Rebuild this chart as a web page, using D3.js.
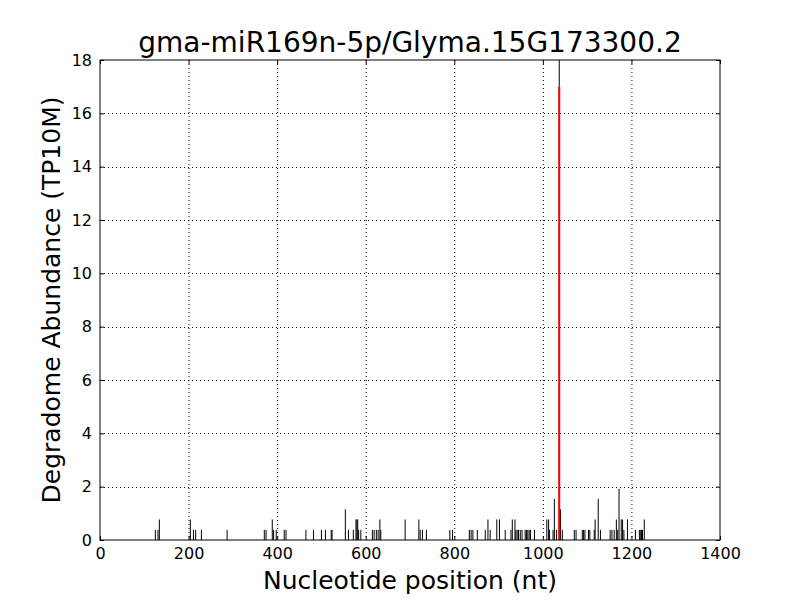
<!DOCTYPE html>
<html><head><meta charset="utf-8">
<script src="https://cdn.jsdelivr.net/npm/d3@7/dist/d3.min.js"></script>
<style>body{margin:0;background:#fff}svg{display:block}text{font-family:"DejaVu Sans",sans-serif}</style>
</head><body>
<script>
const title = "gma-miR169n-5p/Glyma.15G173300.2";
const xLabel = "Nucleotide position (nt)";
const yLabel = "Degradome Abundance (TP10M)";
const xTicks = [0,200,400,600,800,1000,1200,1400];
const yTicks = [0,2,4,6,8,10,12,14,16,18];
const positions = [125,131,134,204,211,216,229,287,371,375,389,392,398,416,420,465,482,500,509,522,524,554,561,572,578,580,582,584,589,615,619,624,628,632,634,689,720,723,728,737,790,796,834,838,842,852,870,876,881,896,902,915,928,931,937,939,942,945,949,953,960,963,966,969,972,981,1009,1013,1015,1023,1026,1031,1037,1040,1044,1071,1075,1089,1092,1095,1103,1106,1116,1118,1125,1130,1152,1156,1161,1166,1169,1172,1177,1180,1183,1191,1209,1218,1221,1223,1225,1229];
const abundances = [0.38,0.38,0.77,0.77,0.38,0.38,0.38,0.38,0.38,0.38,0.77,0.38,0.38,0.38,0.38,0.38,0.38,0.38,0.38,0.38,0.38,1.15,0.38,0.38,0.77,0.77,0.77,0.38,0.38,0.38,0.38,0.38,0.38,0.77,0.38,0.77,0.77,0.38,0.38,0.38,0.38,0.38,0.38,0.38,0.38,0.38,0.38,0.77,0.38,0.77,0.77,0.38,0.38,0.77,0.77,0.38,0.38,0.38,0.38,0.38,0.38,0.38,0.38,0.38,0.38,0.38,0.77,0.77,0.38,0.38,1.54,0.38,19,1.15,0.38,0.38,0.38,0.38,0.38,0.38,0.38,0.38,0.38,0.77,1.54,0.38,0.38,0.38,0.38,0.77,0.38,1.92,0.77,0.77,0.38,0.77,0.38,0.38,0.38,0.38,0.38,0.77];
const targetPos = [1037];
const targetVal = [17];

const W=800,H=600,L=100,R=720,T=60,B=540;
const x=d3.scaleLinear().domain([0,1400]).range([L,R]);
const y=d3.scaleLinear().domain([0,18]).range([B,T]);
const svg=d3.select("body").append("svg").attr("width",W).attr("height",H);
svg.append("defs").append("clipPath").attr("id","c").append("rect").attr("x",L).attr("y",T).attr("width",R-L).attr("height",B-T);

// grid
const g=svg.append("g");
g.selectAll(".gx").data(xTicks.slice(1,-1)).join("line").attr("x1",d=>x(d)+.5).attr("x2",d=>x(d)+.5).attr("y1",T).attr("y2",B).attr("stroke","#000").attr("stroke-width",1).attr("stroke-dasharray","1,3");
g.selectAll(".gy").data(yTicks.slice(1,-1)).join("line").attr("y1",d=>Math.round(y(d))+.5).attr("y2",d=>Math.round(y(d))+.5).attr("x1",L).attr("x2",R).attr("stroke","#000").attr("stroke-width",1).attr("stroke-dasharray","1,3");

const bars=svg.append("g").attr("clip-path","url(#c)");
bars.selectAll(".b").data(positions.map((p,i)=>[p,abundances[i]])).join("line")
 .attr("x1",d=>x(d[0])).attr("x2",d=>x(d[0])).attr("y1",y(0)).attr("y2",d=>y(d[1])).attr("stroke","#000").attr("stroke-width",1);
bars.selectAll(".r").data(targetPos.map((p,i)=>[p,targetVal[i]])).join("line")
 .attr("x1",d=>x(d[0])).attr("x2",d=>x(d[0])).attr("y1",y(0)).attr("y2",d=>y(d[1])).attr("stroke","#ff0000").attr("stroke-width",2);

// axes (ticks inward, all sides)
const fmt=d3.format("d");
const ax=svg.append("g");
ax.append("g").attr("transform",`translate(0,${B})`).call(d3.axisBottom(x).tickValues(xTicks).tickSizeInner(-4).tickSizeOuter(0).tickPadding(8).tickFormat(fmt));
ax.append("g").attr("transform",`translate(0,${T})`).call(d3.axisTop(x).tickValues(xTicks).tickSizeInner(-4).tickSizeOuter(0).tickFormat(""));
ax.append("g").attr("transform",`translate(${L},0)`).call(d3.axisLeft(y).tickValues(yTicks).tickSizeInner(-4).tickSizeOuter(0).tickPadding(8).tickFormat(fmt));
ax.append("g").attr("transform",`translate(${R},0)`).call(d3.axisRight(y).tickValues(yTicks).tickSizeInner(-4).tickSizeOuter(0).tickFormat(""));
ax.selectAll(".domain").remove();
ax.selectAll("text").attr("font-family","DejaVu Sans").attr("font-size",16).attr("fill","#000");
ax.selectAll("line").attr("stroke","#000");
svg.append("rect").attr("x",L).attr("y",T).attr("width",R-L).attr("height",B-T).attr("fill","none").attr("stroke","#000").attr("stroke-width",1);

svg.append("text").attr("x",(L+R)/2).attr("y",52).attr("text-anchor","middle").attr("font-size",28).text(title);
svg.append("text").attr("x",(L+R)/2).attr("y",589).attr("text-anchor","middle").attr("font-size",25).text(xLabel);
svg.append("text").attr("transform",`translate(60,${(T+B)/2}) rotate(-90)`).attr("text-anchor","middle").attr("font-size",25).text(yLabel);
</script>
</body></html>
